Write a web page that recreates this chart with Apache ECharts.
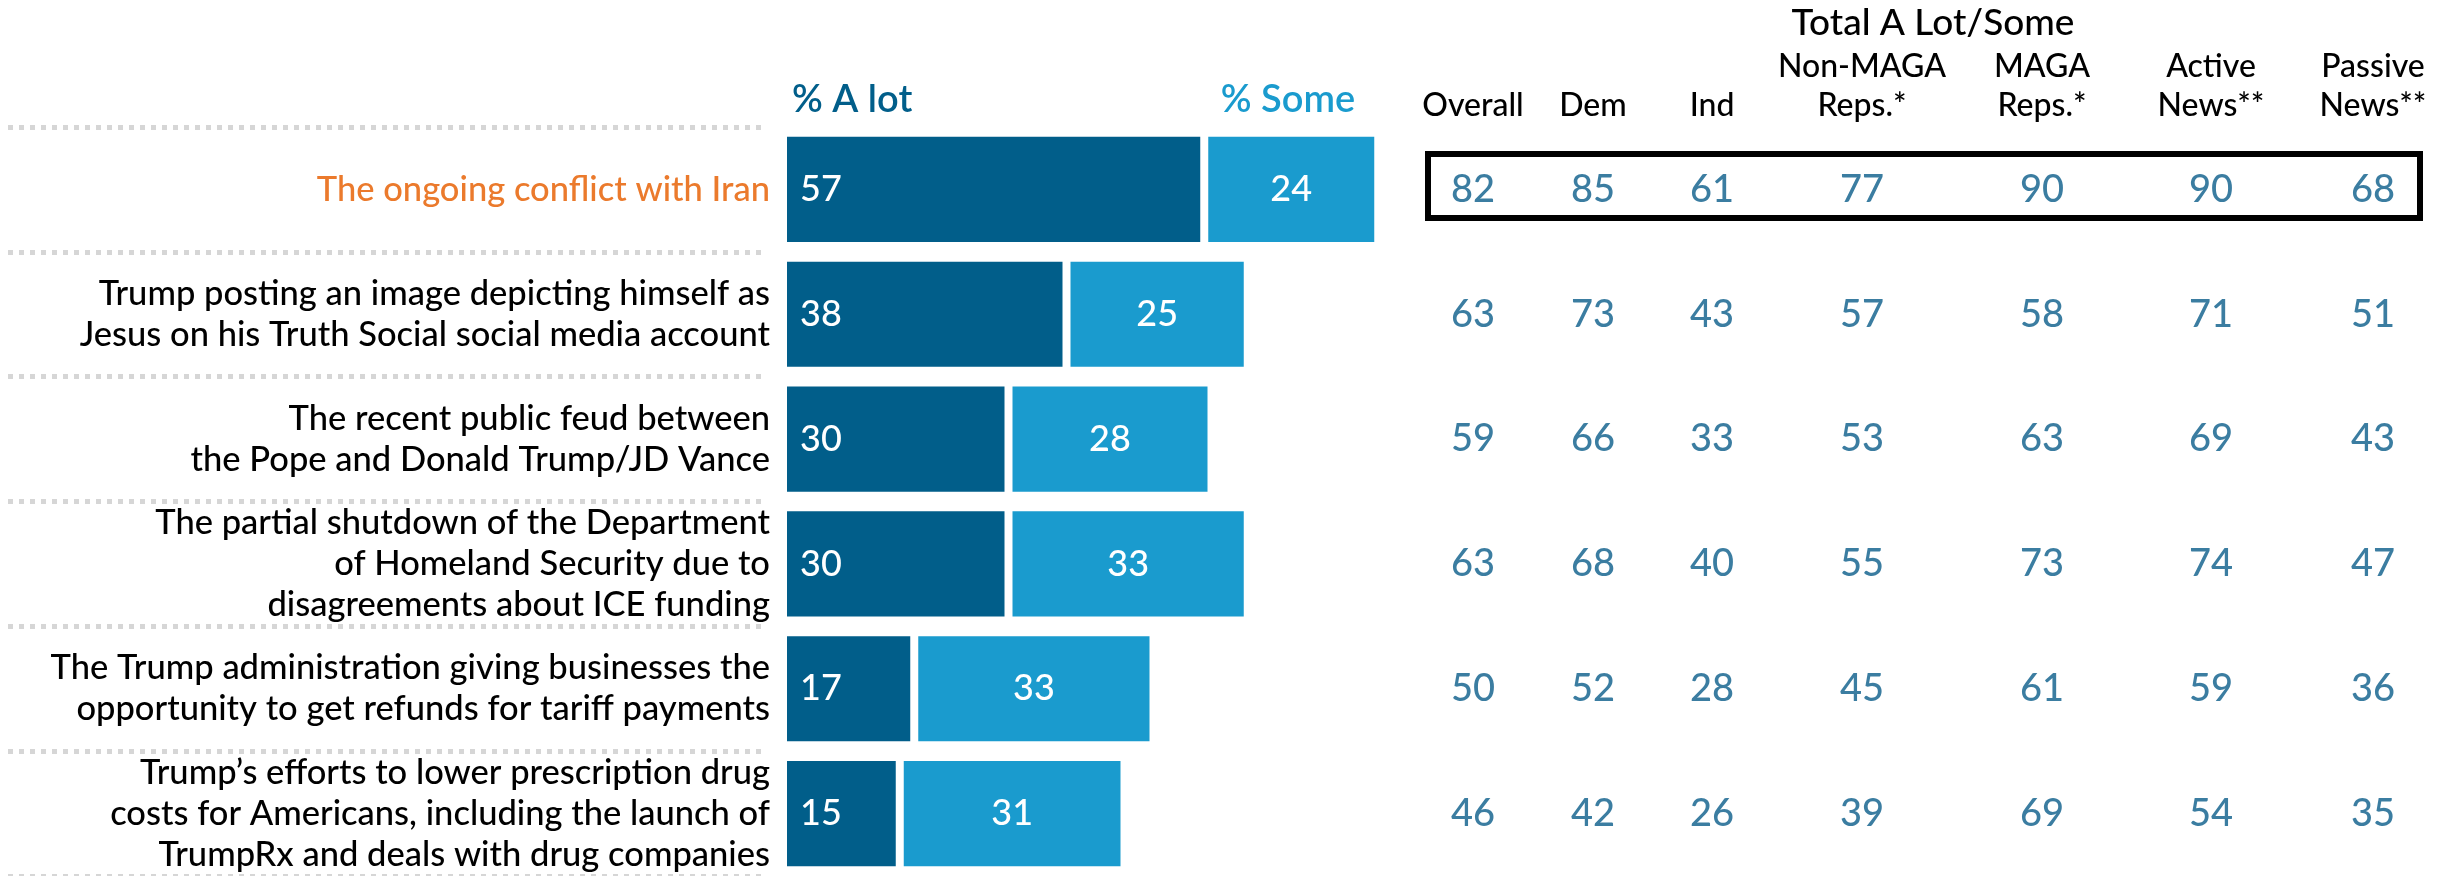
<!DOCTYPE html>
<html>
<head>
<meta charset="utf-8">
<script src="https://cdn.jsdelivr.net/npm/echarts@6/dist/echarts.min.js"></script>
<style>
html,body{margin:0;padding:0;background:#fff;}
#chart{width:2450px;height:876px;}
</style>
</head>
<body>
<div id="chart"></div>
<script>
// ---- data ----
const categories = [
  'The ongoing conflict with Iran',
  'Trump posting an image depicting himself as\nJesus on his Truth Social social media account',
  'The recent public feud between\nthe Pope and Donald Trump/JD Vance',
  'The partial shutdown of the Department\nof Homeland Security due to\ndisagreements about ICE funding',
  'The Trump administration giving businesses the\nopportunity to get refunds for tariff payments',
  'Trump\u2019s efforts to lower prescription drug\ncosts for Americans, including the launch of\nTrumpRx and deals with drug companies'
];
const seriesNames = ['% A lot', '% Some'];
const aLot = [57, 38, 30, 30, 17, 15];
const some = [24, 25, 28, 33, 33, 31];
const tableTitle = 'Total A Lot/Some';
const columnHeaders = ['Overall', 'Dem', 'Ind', 'Non-MAGA\nReps.*', 'MAGA\nReps.*', 'Active\nNews**', 'Passive\nNews**'];
const overall = [82, 63, 59, 63, 50, 46];
const dem = [85, 73, 66, 68, 52, 42];
const ind = [61, 43, 33, 40, 28, 26];
const nonMaga = [77, 57, 53, 55, 45, 39];
const maga = [90, 58, 63, 73, 61, 69];
const activeNews = [90, 71, 69, 74, 59, 54];
const passiveNews = [68, 51, 43, 47, 36, 35];
const tableColumns = [overall, dem, ind, nonMaga, maga, activeNews, passiveNews];

// ---- layout / style ----
const FONT = 'Lato, "Noto Sans", sans-serif';
const DARK = '#015E8A';
const LIGHT = '#1A9BCE';
const ORANGE = '#EB7A2C';
const TEXT = '#000000';
const GRID_TOP = 127, GRID_H = 755;
const colCenters = [1473, 1593, 1712, 1862, 2042, 2211, 2373];
const COL_W = 140;
const GAP = 8;

const grids = [
  {left: 787, top: GRID_TOP, width: 725, height: GRID_H},   // bars
  {left: 8, top: GRID_TOP, width: 759, height: GRID_H}      // separators
];
colCenters.forEach(c => grids.push({left: c - COL_W / 2, top: GRID_TOP, width: COL_W, height: GRID_H}));

const xAxes = [
  {gridIndex: 0, type: 'value', min: 0, max: 100, show: false},
  {gridIndex: 1, type: 'value', min: 0, max: 1, show: false}
];
const yAxes = [
  {gridIndex: 0, type: 'category', data: categories, inverse: true,
   axisLine: {show: false}, axisTick: {show: false}, splitLine: {show: false},
   axisLabel: {margin: 17, fontFamily: FONT, fontWeight: 500, fontSize: 34.5, lineHeight: 41, align: 'right',
     color: (v, i) => i === 0 ? ORANGE : TEXT}},
  {gridIndex: 1, type: 'category', data: categories, inverse: true,
   axisLine: {show: false}, axisTick: {show: false}, axisLabel: {show: false},
   splitLine: {show: true, lineStyle: {color: '#d6d6d6', width: 5, type: [5, 6]}}}
];
const series = [
  {
    type: 'custom', name: seriesNames.join(' / '), xAxisIndex: 0, yAxisIndex: 0,
    data: categories.map((c, i) => [i, aLot[i], some[i]]),
    encode: {x: [1, 2], y: 0},
    renderItem: function (params, api) {
      const i = api.value(0), a = api.value(1), s = api.value(2);
      const p0 = api.coord([0, i]);
      const p1 = api.coord([a, i]);
      const p2 = api.coord([a + s, i]);
      const band = api.size([0, 1])[1];
      const h = band * 0.843;
      const y = p0[1] - h / 2;
      const lblFont = '500 36px ' + FONT;
      return {
        type: 'group',
        children: [
          {type: 'rect', shape: {x: p0[0], y: y, width: p1[0] - p0[0], height: h}, style: {fill: DARK}},
          {type: 'rect', shape: {x: p1[0] + GAP, y: y, width: p2[0] - p1[0] - GAP, height: h}, style: {fill: LIGHT}},
          {type: 'text', x: p0[0] + 13, y: p0[1], style: {text: String(a), fill: '#fff', font: lblFont, align: 'left', verticalAlign: 'middle'}},
          {type: 'text', x: (p1[0] + GAP + p2[0]) / 2, y: p0[1], style: {text: String(s), fill: '#fff', font: lblFont, align: 'center', verticalAlign: 'middle'}}
        ]
      };
    }
  }
];

tableColumns.forEach((vals, k) => {
  const gi = k + 2;
  xAxes.push({gridIndex: gi, type: 'category', data: [columnHeaders[k]], position: 'top',
    axisLine: {show: false}, axisTick: {show: false}, splitLine: {show: false},
    axisLabel: {margin: 2, fontFamily: FONT, fontWeight: 500, fontSize: 32, lineHeight: 39, color: TEXT, interval: 0}});
  yAxes.push({gridIndex: gi, type: 'category', data: categories, inverse: true, show: false});
  series.push({
    type: 'scatter', xAxisIndex: gi, yAxisIndex: gi, symbolSize: 0, silent: true,
    data: vals.map((v, i) => [0, i, v]),
    encode: {x: 0, y: 1},
    label: {show: true, position: 'inside', formatter: p => String(p.value[2]),
      fontFamily: FONT, fontWeight: 500, fontSize: 38, color: '#0A5C8A'}
  });
});

const chart = echarts.init(document.getElementById('chart'), null, {renderer: 'canvas'});
chart.setOption({
  animation: false,
  backgroundColor: '#fff',
  grid: grids,
  xAxis: xAxes,
  yAxis: yAxes,
  series: series,
  graphic: [
    {type: 'text', x: 792, y: 100, style: {text: seriesNames[0], font: '600 38px ' + FONT, fill: DARK, align: 'left', verticalAlign: 'middle'}},
    {type: 'text', x: 1288, y: 100, style: {text: seriesNames[1], font: '600 38px ' + FONT, fill: LIGHT, align: 'center', verticalAlign: 'middle'}},
    {type: 'text', x: 1933, y: 23, style: {text: tableTitle, font: '500 37px ' + FONT, fill: TEXT, align: 'center', verticalAlign: 'middle'}},
    {type: 'rect', shape: {x: 1428, y: 154, width: 992, height: 64}, style: {fill: null, stroke: '#000', lineWidth: 6}}
  ]
});
</script>
</body>
</html>
